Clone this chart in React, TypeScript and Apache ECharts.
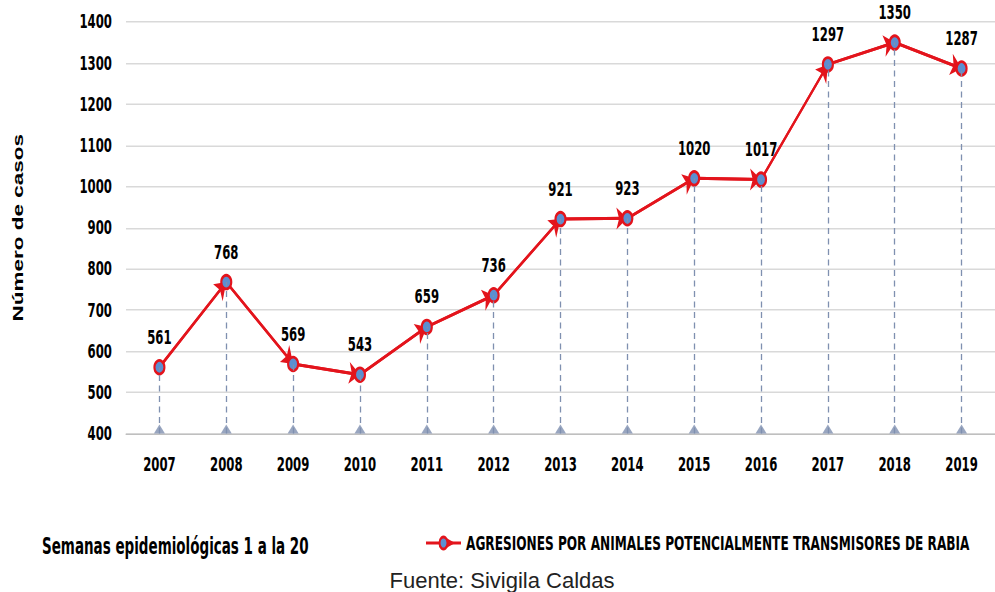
import React, { useEffect, useRef } from "react";
import * as echarts from "echarts";

const years = ["2007","2008","2009","2010","2011","2012","2013","2014","2015","2016","2017","2018","2019"];
const cases = [561, 768, 569, 543, 659, 736, 921, 923, 1020, 1017, 1297, 1350, 1287];
const yTicks = { min: 400, max: 1400, interval: 100 };
const seriesName = "AGRESIONES POR ANIMALES POTENCIALMENTE TRANSMISORES DE RABIA";
const noteText = "Semanas epidemiológicas 1 a la 20";
const sourceText = "Fuente: Sivigila Caldas";
const yName = "Número de casos";

// The original picture is stretched vertically; we draw at 1/S height and stretch.
const S = 1.5;
const W = 995;
const H = 592 / S;

const NARROW = "'DejaVu Sans Condensed', 'Liberation Sans Narrow', 'Arial Narrow', sans-serif";
const RED = "#e3141c";
const LEG_Y = 543 / S;

export default function App() {
  const ref = useRef<HTMLDivElement>(null);
  useEffect(() => {
    if (!ref.current) return;
    const chart = echarts.init(ref.current, null, { renderer: "svg" });
    const arrows = cases.slice(1).map((v, i) => ({
      coords: [[years[i], cases[i]], [years[i + 1], v]],
    }));
    const drops = years.map((y, i) => [
      { coord: [y, yTicks.min] },
      { coord: [y, cases[i]] },
    ]);
    chart.setOption({
      animation: false,
      grid: { left: 126, right: -15, top: 22 / S, bottom: H - 433 / S },
      xAxis: {
        type: "category",
        data: years,
        boundaryGap: true,
        axisLine: { lineStyle: { color: "#bfbfbf", width: 1 } },
        axisTick: { show: false },
        axisLabel: { color: "#000", fontFamily: NARROW, fontWeight: "bold", fontSize: 13, margin: 14 },
      },
      yAxis: {
        type: "value",
        min: yTicks.min,
        max: yTicks.max,
        interval: yTicks.interval,
        name: yName,
        nameLocation: "middle",
        nameGap: 101,
        nameTextStyle: { color: "#000", fontFamily: "'Liberation Sans', Arial, sans-serif", fontWeight: "bold", fontSize: 15 },
        axisLine: { show: false },
        axisTick: { show: false },
        axisLabel: {
          color: "#000",
          fontFamily: NARROW,
          fontWeight: "bold",
          fontSize: 13,
          margin: 14,
          formatter: (v: number) => String(v),
        },
        splitLine: { lineStyle: { color: "#d9d9d9", width: 1 } },
      },
      legend: {
        data: [seriesName],
        left: 420,
        top: LEG_Y - 12,
        itemWidth: 35,
        itemHeight: 10,
        textStyle: { color: "#000", fontFamily: NARROW, fontWeight: "bold", fontSize: 13.5 },
      },
      series: [
        {
          type: "scatter",
          data: years.map(() => yTicks.min),
          symbol: "triangle",
          symbolSize: [11, 6],
          symbolOffset: [0, -3],
          itemStyle: { color: "#7f90b0" },
          silent: true,
          z: 1,
          markLine: {
            silent: true,
            symbol: ["none", "none"],
            label: { show: false },
            lineStyle: { color: "#7f90b0", type: [4, 3], width: 1.3 },
            data: drops,
          },
        },
        {
          type: "lines",
          coordinateSystem: "cartesian2d",
          data: arrows,
          symbol: ["none", "arrow"],
          symbolSize: 11,
          lineStyle: { color: RED, width: 2, opacity: 1 },
          silent: true,
          z: 3,
        },
        {
          name: seriesName,
          type: "line",
          data: cases,
          symbol: "circle",
          symbolSize: [10, 9],
          itemStyle: { color: "#5b8fd1", borderColor: RED, borderWidth: 2 },
          lineStyle: { color: RED, width: 2 },
          label: {
            show: true,
            position: "top",
            distance: 8,
            color: "#000",
            fontFamily: NARROW,
            fontWeight: "bold",
            fontSize: 13,
          },
          z: 4,
        },
      ],
      graphic: [
        {
          type: "polygon",
          z: 100,
          shape: {
            points: [
              [445, LEG_Y - 3.8],
              [455, LEG_Y],
              [445, LEG_Y + 3.8],
              [447.5, LEG_Y],
            ],
          },
          style: { fill: RED },
        },
        {
          type: "text",
          x: 42,
          y: 546 / S,
          style: { text: noteText, fill: "#000", font: `bold 15px ${NARROW}`, verticalAlign: "middle" },
        },
        {
          type: "text",
          x: 502,
          y: 569 / S,
          scaleY: 1 / S,
          style: {
            text: sourceText,
            fill: "#222",
            font: "22px 'Liberation Sans', Arial, sans-serif",
            align: "center",
            verticalAlign: "top",
          },
        },
      ],
    });
    return () => chart.dispose();
  }, []);
  return (
    <div style={{ position: "absolute", left: 0, top: 0, width: W, height: 592, overflow: "hidden", background: "#fff" }}>
      <div
        ref={ref}
        style={{ width: W, height: H, transform: `scaleY(${S})`, transformOrigin: "0 0" }}
      />
    </div>
  );
}
